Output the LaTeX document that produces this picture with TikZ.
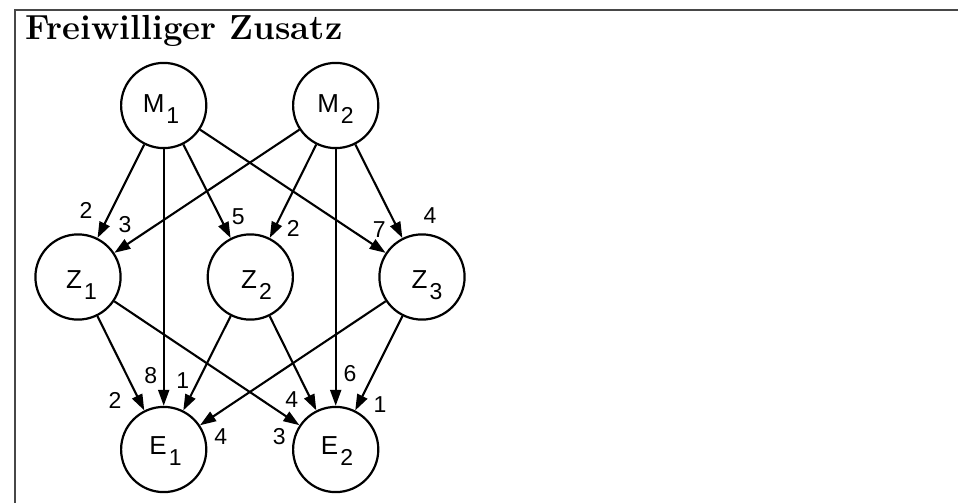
\documentclass[tikz,border=0pt]{standalone}
\usepackage{fontspec}
\newfontfamily\labfont{Liberation Sans}
\usetikzlibrary{arrows.meta}
\newcommand{\nlab}[2]{{\labfont\fontsize{26pt}{26pt}\selectfont #1\kern2pt\raisebox{-11pt}{\fontsize{23pt}{23pt}\selectfont #2}}}
\begin{document}
\begin{tikzpicture}[x=1pt,y=-1pt,
  circ/.style={circle,draw,line width=2.2pt,minimum size=85.2pt,inner sep=0pt},
  ntext/.style={inner sep=0pt,anchor=center},
  edge/.style={line width=2.1pt,-{Triangle[length=16pt,width=11pt]}},
  wlab/.style={inner sep=0pt,anchor=center,font=\labfont\fontsize{23pt}{23pt}\selectfont},
  frame/.style={line width=1.8pt,draw=black!72}]
\useasboundingbox (0,0) rectangle (958,503);
\draw[frame] (958,10) -- (14.7,10) -- (14.7,503);
\node[inner sep=0pt,anchor=base west,font=\bfseries\fontsize{34.8pt}{34.8pt}\selectfont] (title) at (25,40) {Freiwilliger Zusatz};
% circles
\node[circ] (M1) at (163.7,105.5) {};
\node[circ] (M2) at (335.7,105.5) {};
\node[circ] (Z1) at (78,277) {};
\node[circ] (Z2) at (250.3,277) {};
\node[circ] (Z3) at (422,277) {};
\node[circ] (E1) at (163.7,449.5) {};
\node[circ] (E2) at (335.7,449.5) {};
% node texts
\node[ntext] (M1t) at (161,109.2) {\nlab{M}{1}};
\node[ntext] (M2t) at (335.5,109.2) {\nlab{M}{2}};
\node[ntext] (Z1t) at (81.5,285) {\nlab{Z}{1}};
\node[ntext] (Z2t) at (256.5,285.3) {\nlab{Z}{2}};
\node[ntext] (Z3t) at (427,285.5) {\nlab{Z}{3}};
\node[ntext] (E1t) at (165.5,451.2) {\nlab{E}{1}};
\node[ntext] (E2t) at (337,451.2) {\nlab{E}{2}};
% edges
\draw[edge] (M1) -- (Z1);
\draw[edge] (M1) -- (E1);
\draw[edge] (M1) -- (Z2);
\draw[edge] (M1) -- (Z3);
\draw[edge] (M2) -- (Z1);
\draw[edge] (M2) -- (Z2);
\draw[edge] (M2) -- (E2);
\draw[edge] (M2) -- (Z3);
\draw[edge] (Z1) -- (E1);
\draw[edge] (Z1) -- (E2);
\draw[edge] (Z2) -- (E1);
\draw[edge] (Z2) -- (E2);
\draw[edge] (Z3) -- (E1);
\draw[edge] (Z3) -- (E2);
% weights
\node[wlab] (w1) at (86,210.7) {2};
\node[wlab] (w2) at (125,225) {3};
\node[wlab] (w3) at (238.3,216.7) {5};
\node[wlab] (w4) at (293.3,228.3) {2};
\node[wlab] (w5) at (379.3,229.3) {7};
\node[wlab] (w6) at (430,216) {4};
\node[wlab] (w7) at (150.7,375.7) {8};
\node[wlab] (w8) at (182.7,381) {1};
\node[wlab] (w9) at (115,400) {2};
\node[wlab] (w10) at (220.7,436.7) {4};
\node[wlab] (w11) at (350,373.3) {6};
\node[wlab] (w12) at (291.7,400) {4};
\node[wlab] (w13) at (380,405) {1};
\node[wlab] (w14) at (279.3,436.7) {3};
\end{tikzpicture}
\end{document}
